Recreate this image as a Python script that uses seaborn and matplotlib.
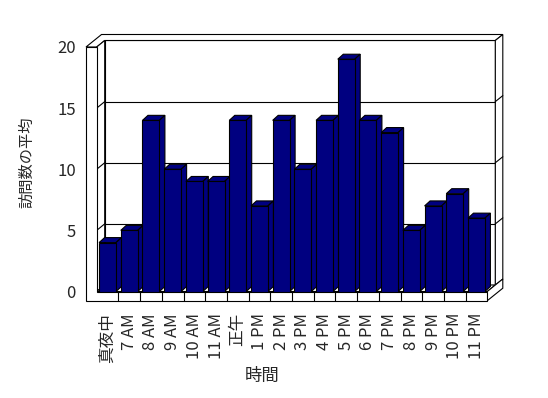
import numpy as np
import pandas as pd
import seaborn as sns
import matplotlib.pyplot as plt
from matplotlib.patches import Polygon

hours = ['真夜中', '7 AM', '8 AM', '9 AM', '10 AM', '11 AM', '正午', '1 PM', '2 PM',
         '3 PM', '4 PM', '5 PM', '6 PM', '7 PM', '8 PM', '9 PM', '10 PM', '11 PM']
visits = [4, 5, 14, 10, 9, 9, 14, 7, 14, 10, 14, 19, 14, 13, 5, 7, 8, 6]
yticks = [0, 5, 10, 15, 20]

sns.set_theme(style='white')
plt.rcParams['font.family'] = ['Noto Sans CJK JP', 'DejaVu Sans']

W, H = 548, 398
fig = plt.figure(figsize=(W / 100, H / 100), dpi=100)

# front plane of the 3d box (pixels)
x0, x1 = 96.7, 487.3
ytop, ybot = 47, 291.5
ax = fig.add_axes([x0 / W, 1 - ybot / H, (x1 - x0) / W, (ybot - ytop) / H])

df = pd.DataFrame({'hour': hours, 'visits': visits})
sns.barplot(data=df, x='hour', y='visits', color='#000080', saturation=1,
            width=0.78, edgecolor='black', linewidth=0.8, zorder=3, ax=ax)

n = len(hours)
ymax = yticks[-1]
ax.set_xlim(-0.5, n - 0.5)
ax.set_ylim(0, ymax)
for s in ax.spines.values():
    s.set_visible(False)

# pixel -> data units
px = n / (x1 - x0)
py = ymax / (ybot - ytop)
Dx, Dy = 8 * px, 6.5 * py        # depth of the box
Tx, Ty = 7.5 * px, 6 * py        # back wall thickness
LW = 10.7 * px                   # left wall thickness
FT = 9.2 * py                    # floor thickness
xa, xb = -0.5, n - 0.5
lw = 0.8


def face(pts, fc='white', z=1):
    ax.add_patch(Polygon(pts, closed=True, facecolor=fc, edgecolor='black',
                         linewidth=lw, zorder=z, clip_on=False))


def line(xs, ys, z=1.5):
    ax.plot(xs, ys, color='black', linewidth=lw, zorder=z, clip_on=False)


# back wall inner face + gridlines
face([(xa + Dx, Dy), (xb + Dx, Dy), (xb + Dx, ymax + Dy), (xa + Dx, ymax + Dy)])
for v in yticks[1:-1]:
    line([xa + Dx, xb + Dx], [v + Dy, v + Dy])
    line([xb + Dx, xb + Dx + Tx], [v + Dy, v + Dy + Ty])
    line([xa - LW, xa], [v, v], z=2)
# top of left + back wall
face([(xa - LW, ymax), (xa, ymax), (xa + Dx, ymax + Dy), (xb + Dx, ymax + Dy),
      (xb + Dx + Tx, ymax + Dy + Ty), (xa - LW + Dx + Tx, ymax + Dy + Ty)])
# right edge of back wall
face([(xb + Dx, Dy), (xb + Dx, ymax + Dy), (xb + Dx + Tx, ymax + Dy + Ty),
      (xb + Dx + Tx, Dy + Ty)])
# left wall inner face
face([(xa, 0), (xa + Dx, Dy), (xa + Dx, ymax + Dy), (xa, ymax)], z=1.2)
for v in yticks[1:-1]:
    line([xa, xa + Dx], [v, v + Dy])
# floor top and right side
face([(xa, 0), (xb, 0), (xb + Dx, Dy), (xa + Dx, Dy)], z=1.2)
face([(xb, 0), (xb + Dx, Dy), (xb + Dx + Tx, Dy + Ty),
      (xb + Dx + Tx, Dy + Ty - FT), (xb, -FT)], z=1.2)
# front faces of left wall and floor
face([(xa - LW, ymax), (xa, ymax), (xa, 0), (xb, 0), (xb, -FT), (xa - LW, -FT)], z=2)
for k in range(n - 1):
    line([k + 0.5, k + 0.5], [0, -FT], z=2.1)

# tops and sides of the bars
bx, by = 5.5 * px, 5 * py
for p in ax.patches[:n]:
    left, w, h = p.get_x(), p.get_width(), p.get_height()
    r = left + w
    face([(left, h), (r, h), (r + bx, h + by), (left + bx, h + by)], fc='#000080', z=2.5)
    face([(r, 0), (r + bx, by), (r + bx, h + by), (r, h)], fc='#000080', z=2.5)

ax.set_yticks(yticks)
ax.set_yticklabels([str(v) for v in yticks], fontsize=12)
ax.set_xticks(range(n))
ax.set_xticklabels(hours, rotation=90, fontsize=12)
ax.tick_params(axis='y', length=0, pad=15)
ax.tick_params(axis='x', length=0, pad=15.5)
ax.set_xlabel('')
ax.set_ylabel('')

fig.text(262.5 / W, 1 - 375.5 / H, '時間', fontsize=12.5, ha='center', va='center')
fig.text(26.5 / W, 1 - 162.5 / H, '訪問数の平均', fontsize=11, rotation=90,
         ha='center', va='center')

fig.savefig('out.png', dpi=100, facecolor='white')
